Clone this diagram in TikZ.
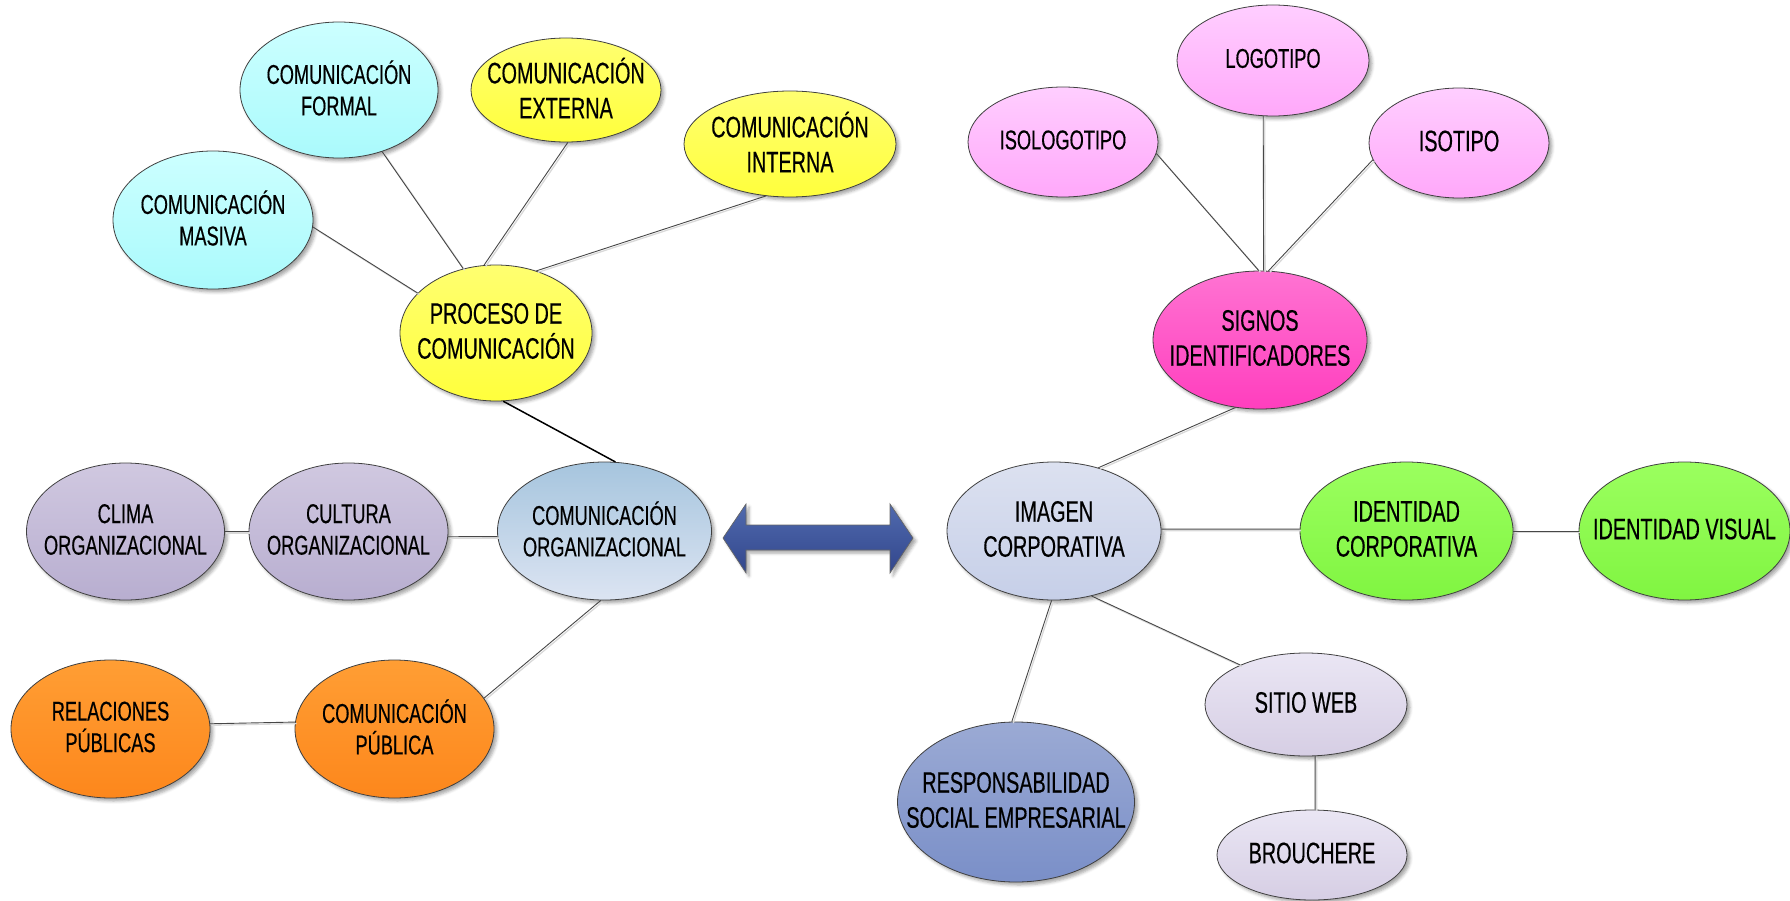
\documentclass[tikz,border=0pt]{standalone}
\usepackage{fontspec}
\setmainfont{Liberation Sans}[FakeStretch=0.67,FakeBold=0.4]
\usetikzlibrary{shapes.geometric,shadows.blur}

% fill colours: top / bottom of each gradient
\definecolor{cyanT}{RGB}{204,255,255}\definecolor{cyanB}{RGB}{170,250,252}
\definecolor{yelT}{RGB}{255,255,112}\definecolor{yelB}{RGB}{255,255,60}
\definecolor{lilT}{RGB}{208,200,224}\definecolor{lilB}{RGB}{184,174,208}
\definecolor{corgT}{RGB}{166,197,222}\definecolor{corgB}{RGB}{220,228,242}
\definecolor{oraT}{RGB}{255,158,52}\definecolor{oraB}{RGB}{253,135,28}
\definecolor{pinkT}{RGB}{255,206,255}\definecolor{pinkB}{RGB}{255,168,250}
\definecolor{magT}{RGB}{255,115,210}\definecolor{magB}{RGB}{255,62,190}
\definecolor{imgT}{RGB}{220,225,240}\definecolor{imgB}{RGB}{198,207,232}
\definecolor{grnT}{RGB}{155,255,95}\definecolor{grnB}{RGB}{128,245,65}
\definecolor{webT}{RGB}{234,230,244}\definecolor{webB}{RGB}{214,206,228}
\definecolor{rseT}{RGB}{155,170,212}\definecolor{rseB}{RGB}{122,143,200}
\definecolor{arrT}{RGB}{80,106,174}\definecolor{arrB}{RGB}{50,70,140}

\tikzset{
  bub/.style={ellipse, draw=black!75, line width=0.8pt, inner sep=0pt,
    blur shadow={shadow xshift=3pt, shadow yshift=-3pt, shadow blur radius=3pt, shadow opacity=35}},
  cyanf/.style={top color=cyanT, bottom color=cyanB},
  yelf/.style={top color=yelT, bottom color=yelB},
  lilf/.style={top color=lilT, bottom color=lilB},
  corgf/.style={top color=corgT, bottom color=corgB},
  oraf/.style={top color=oraT, bottom color=oraB},
  pinkf/.style={top color=pinkT, bottom color=pinkB},
  magf/.style={top color=magT, bottom color=magB},
  imgf/.style={top color=imgT, bottom color=imgB},
  grnf/.style={top color=grnT, bottom color=grnB},
  webf/.style={top color=webT, bottom color=webB},
  rsef/.style={top color=rseT, bottom color=rseB},
  lblS/.style={align=center, inner sep=0pt, yshift=2pt, font=\fontsize{27.2}{31.5}\selectfont},
  lblL/.style={align=center, inner sep=0pt, yshift=2pt, font=\fontsize{29.6}{35}\selectfont},
  connshade/.style={draw=black!15, line width=1.3pt, transform canvas={xshift=1.5pt, yshift=-1.5pt}},
  connline/.style={draw=black!72, line width=0.9pt},
  strong/.style={draw=black, line width=1.5pt},
}

% ellipse with centred caption: name, centre, width, height, fill, label style, text
\newcommand\bubble[7]{%
  \node[bub,#5,minimum width=#3pt,minimum height=#4pt] (#1) at (#2) {};
  \node[#6] (#1-t) at (#1.center) {#7};}
% connector with its faint offset shadow
\newcommand\conn[2]{%
  \draw[connshade] (#1) -- (#2);
  \draw[connline] (#1) -- (#2);}

\begin{document}
\begin{tikzpicture}[x=1pt,y=-1pt]
\useasboundingbox (0,0) rectangle (1790,901);

% left cluster
\bubble{formal}{339,90}{198}{136}{cyanf}{lblS}{COMUNICACIÓN\\FORMAL}
\bubble{externa}{566,90}{190}{104}{yelf}{lblL}{COMUNICACIÓN\\EXTERNA}
\bubble{interna}{790,144}{212}{106}{yelf}{lblL}{COMUNICACIÓN\\INTERNA}
\bubble{masiva}{213,220}{200}{138}{cyanf}{lblS}{COMUNICACIÓN\\MASIVA}
\bubble{proceso}{496,333}{192}{136}{yelf}{lblL}{PROCESO DE\\COMUNICACIÓN}
\bubble{clima}{125.5,531.5}{198}{137}{lilf}{lblS}{CLIMA\\ORGANIZACIONAL}
\bubble{cultura}{348.5,531.5}{199}{137}{lilf}{lblS}{CULTURA\\ORGANIZACIONAL}
\bubble{comorg}{604.5,531}{214}{138}{corgf}{lblS}{COMUNICACIÓN\\ORGANIZACIONAL}
\bubble{relaciones}{110.5,729}{199}{138}{oraf}{lblS}{RELACIONES\\PÚBLICAS}
\bubble{publica}{394.5,729}{199}{138}{oraf}{lblS}{COMUNICACIÓN\\PÚBLICA}

% right cluster
\bubble{logotipo}{1273,60.5}{192}{111}{pinkf}{lblS}{LOGOTIPO}
\bubble{isologo}{1063,142}{190}{110}{pinkf}{lblS}{ISOLOGOTIPO}
\bubble{isotipo}{1459,143}{180}{110}{pinkf}{lblL}{ISOTIPO}
\bubble{signos}{1260,340}{214}{138}{magf}{lblL}{SIGNOS\\IDENTIFICADORES}
\bubble{imagen}{1054,531}{214}{138}{imgf}{lblL}{IMAGEN\\CORPORATIVA}
\bubble{idcorp}{1406.5,531}{213}{138}{grnf}{lblL}{IDENTIDAD\\CORPORATIVA}
\bubble{idvisual}{1684.5,531}{211}{138}{grnf}{lblL}{IDENTIDAD VISUAL}
\bubble{sitio}{1306,704.5}{202}{103}{webf}{lblL}{SITIO WEB}
\bubble{brouchere}{1312,855}{190}{90}{webf}{lblL}{BROUCHERE}
\bubble{rse}{1016,802}{237}{160}{rsef}{lblL}{RESPONSABILIDAD\\SOCIAL EMPRESARIAL}

% connectors, left
\conn{formal.-55}{proceso.117.6}
\conn{externa.-88}{proceso.100}
\conn{interna.-115}{proceso.57.4}
\conn{masiva.-4}{proceso.153}
\draw[strong] (proceso.-84) -- (comorg.81);
\conn{clima.0}{cultura.180}
\conn{cultura.-3.8}{comorg.183.8}
\conn{comorg.-93}{publica.19.5}
\conn{relaciones.3.5}{publica.176.5}

% connectors, right
\conn{isologo.-7}{signos.91}
\conn{logotipo.-100}{signos.87.5}
\conn{isotipo.-169}{signos.83.5}
\conn{signos.-110}{imagen.55.5}
\conn{imagen.1}{idcorp.179}
\conn{idcorp.0}{idvisual.180}
\conn{imagen.-60}{sitio.149.6}
\conn{imagen.-92.5}{rse.93.6}
\conn{sitio.-80}{brouchere.86}

% double arrow between the two clusters
\coordinate (al) at (723,538);
\coordinate (ar) at (913,538);
\path[draw=black!60, line width=0.7pt, top color=arrT, bottom color=arrB,
  blur shadow={shadow xshift=3pt, shadow yshift=-3pt, shadow blur radius=3pt, shadow opacity=35}]
  (al) -- (746,504) -- (746,525) -- (890,525) -- (890,504) -- (ar)
  -- (890,573) -- (890,550) -- (746,550) -- (746,573) -- cycle;
\end{tikzpicture}
\end{document}
